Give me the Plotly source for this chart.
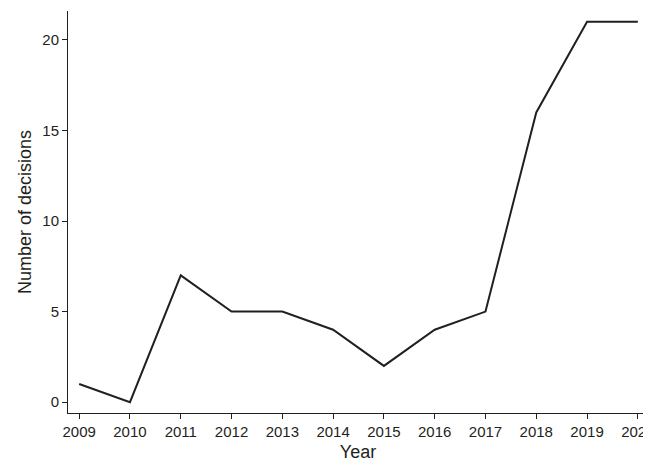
import plotly.graph_objects as go

years = [2009, 2010, 2011, 2012, 2013, 2014, 2015, 2016, 2017, 2018, 2019, 2020]
decisions = [1, 0, 7, 5, 5, 4, 2, 4, 5, 16, 21, 21]
y_ticks = [0, 5, 10, 15, 20]

fig = go.Figure(go.Scatter(x=years, y=decisions, mode="lines",
                           line=dict(color="#231f20", width=2)))
fig.update_layout(
    width=651, height=461, plot_bgcolor="white", paper_bgcolor="white",
    margin=dict(l=60, r=11, t=3, b=56), showlegend=False,
    font=dict(family="Liberation Sans, Arial", size=15, color="#231f20"),
)
fig.update_xaxes(range=[2008.78, 2020.2], tickvals=years, showline=True,
                 linecolor="#231f20", linewidth=1, ticks="outside", ticklen=5,
                 tickcolor="#231f20", showgrid=False, zeroline=False, automargin=False,
                 title=dict(text="Year", font=dict(size=18), standoff=6))
fig.update_yaxes(range=[-0.6, 21.6], tickvals=y_ticks, showline=True,
                 linecolor="#231f20", linewidth=1, ticks="outside", ticklen=5,
                 tickcolor="#231f20", showgrid=False, zeroline=False, automargin=False,
                 title=dict(text="Number of decisions", font=dict(size=18), standoff=6))
fig.write_html("out.html")
